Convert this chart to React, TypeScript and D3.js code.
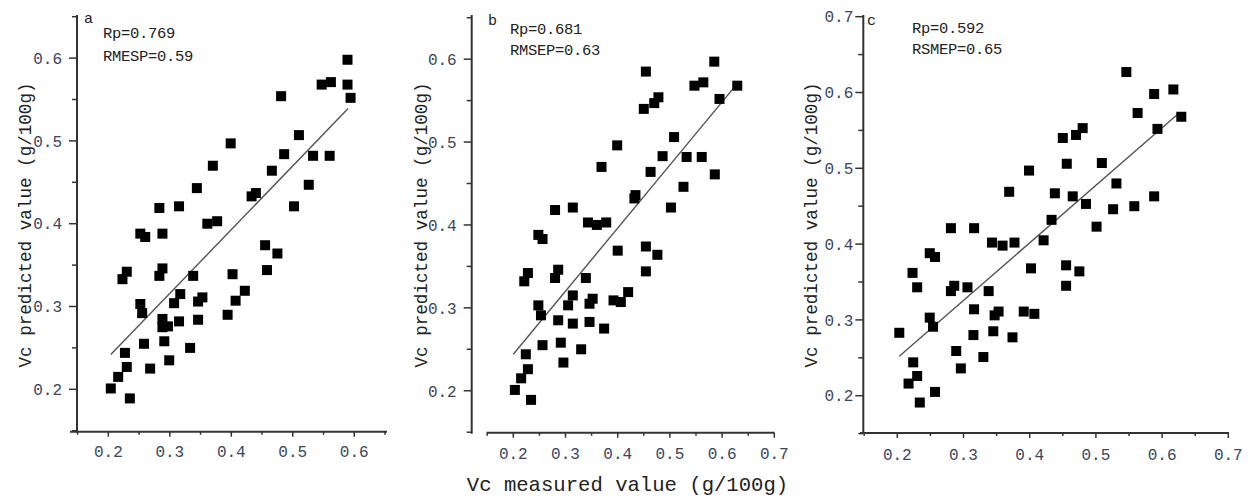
import React from 'react';
import * as d3 from 'd3';

// ---------- data ----------
const xTitle = 'Vc measured value (g/100g)';
const yTitle = 'Vc predicted value (g/100g)';
const panelLabels = ['a', 'b', 'c'];
const statsA = ['Rp=0.769', 'RMESP=0.59'];
const statsB = ['Rp=0.681', 'RMSEP=0.63'];
const statsC = ['Rp=0.592', 'RSMEP=0.65'];

const xTicksA = [0.2, 0.3, 0.4, 0.5, 0.6];
const xTicksBC = [0.2, 0.3, 0.4, 0.5, 0.6, 0.7];
const yTicksAB = [0.2, 0.3, 0.4, 0.5, 0.6];
const yTicksC = [0.2, 0.3, 0.4, 0.5, 0.6, 0.7];

const measuredA = [0.589, 0.547, 0.562, 0.589, 0.594, 0.481, 0.510, 0.486, 0.533, 0.560, 0.399, 0.370, 0.466, 0.344, 0.526, 0.433, 0.440, 0.502, 0.283, 0.315, 0.361, 0.377, 0.252, 0.260, 0.288, 0.455, 0.475, 0.458, 0.230, 0.223, 0.288, 0.283, 0.338, 0.402, 0.422, 0.407, 0.394, 0.252, 0.255, 0.317, 0.307, 0.353, 0.346, 0.288, 0.288, 0.297, 0.315, 0.346, 0.227, 0.258, 0.291, 0.333, 0.230, 0.268, 0.299, 0.216, 0.204, 0.235];
const predictedA = [0.598, 0.568, 0.571, 0.568, 0.552, 0.554, 0.507, 0.484, 0.482, 0.482, 0.497, 0.470, 0.464, 0.443, 0.447, 0.433, 0.437, 0.421, 0.419, 0.421, 0.400, 0.403, 0.388, 0.384, 0.388, 0.374, 0.364, 0.344, 0.342, 0.333, 0.346, 0.337, 0.337, 0.339, 0.319, 0.307, 0.290, 0.303, 0.292, 0.315, 0.304, 0.311, 0.306, 0.285, 0.275, 0.276, 0.282, 0.284, 0.244, 0.255, 0.258, 0.250, 0.227, 0.225, 0.235, 0.215, 0.201, 0.189];
const fitA = [[0.204, 0.242], [0.590, 0.539]];

const measuredB = [0.585, 0.454, 0.547, 0.564, 0.629, 0.595, 0.478, 0.470, 0.450, 0.508, 0.399, 0.486, 0.532, 0.561, 0.369, 0.463, 0.586, 0.526, 0.434, 0.432, 0.502, 0.280, 0.314, 0.343, 0.360, 0.378, 0.248, 0.256, 0.400, 0.454, 0.476, 0.454, 0.228, 0.221, 0.286, 0.280, 0.339, 0.420, 0.392, 0.406, 0.314, 0.305, 0.352, 0.346, 0.248, 0.253, 0.286, 0.314, 0.346, 0.374, 0.224, 0.256, 0.291, 0.330, 0.228, 0.296, 0.215, 0.203, 0.234];
const predictedB = [0.597, 0.585, 0.568, 0.572, 0.568, 0.552, 0.554, 0.547, 0.540, 0.506, 0.496, 0.483, 0.482, 0.482, 0.470, 0.464, 0.461, 0.446, 0.436, 0.432, 0.421, 0.418, 0.421, 0.403, 0.400, 0.403, 0.388, 0.383, 0.369, 0.374, 0.364, 0.344, 0.342, 0.332, 0.346, 0.336, 0.336, 0.319, 0.309, 0.307, 0.315, 0.303, 0.311, 0.305, 0.303, 0.291, 0.285, 0.281, 0.283, 0.275, 0.244, 0.255, 0.258, 0.250, 0.226, 0.234, 0.215, 0.201, 0.189];
const fitB = [[0.200, 0.244], [0.627, 0.569]];

const measuredC = [0.546, 0.588, 0.617, 0.563, 0.629, 0.593, 0.480, 0.470, 0.450, 0.399, 0.456, 0.509, 0.369, 0.438, 0.465, 0.485, 0.531, 0.526, 0.558, 0.588, 0.433, 0.501, 0.281, 0.316, 0.343, 0.359, 0.377, 0.421, 0.249, 0.257, 0.402, 0.455, 0.475, 0.455, 0.223, 0.230, 0.286, 0.281, 0.306, 0.338, 0.316, 0.353, 0.347, 0.391, 0.407, 0.249, 0.254, 0.203, 0.315, 0.345, 0.374, 0.289, 0.330, 0.224, 0.296, 0.230, 0.217, 0.257, 0.234];
const predictedC = [0.627, 0.598, 0.604, 0.573, 0.568, 0.552, 0.553, 0.544, 0.540, 0.497, 0.506, 0.507, 0.469, 0.467, 0.463, 0.453, 0.480, 0.446, 0.450, 0.463, 0.432, 0.423, 0.421, 0.421, 0.402, 0.398, 0.402, 0.405, 0.388, 0.383, 0.368, 0.372, 0.364, 0.345, 0.362, 0.343, 0.345, 0.338, 0.343, 0.338, 0.314, 0.311, 0.306, 0.311, 0.308, 0.303, 0.291, 0.283, 0.280, 0.285, 0.277, 0.259, 0.251, 0.244, 0.236, 0.226, 0.216, 0.205, 0.191];
const fitC = [[0.203, 0.252], [0.627, 0.574]];

// ---------- layout ----------
const FONT = '"Liberation Mono", "DejaVu Sans Mono", monospace';
const AXIS = '#333';

type Cfg = {
  xDomain: number[]; xRange: number[];
  yDomain: number[]; yRange: number[];
  yAxisX: number; xAxisY: number; xAxisStart: number; xAxisEnd: number;
  yAxisTop: number; yLabelGap: number; xLabelDy: number;
  titleX: number; labelPos: number[]; statsPos: number[][];
};

const cfgA: Cfg = {
  xDomain: [0.15, 0.65], xRange: [77.6, 385],
  yDomain: [0.15, 0.65], yRange: [430.7, 16.7],
  yAxisX: 77, xAxisY: 431.7, xAxisStart: 70, xAxisEnd: 387,
  yAxisTop: 15, yLabelGap: 15, xLabelDy: 25.5,
  titleX: 25, labelPos: [84, 23], statsPos: [[103, 38], [103, 61]],
};
const cfgB: Cfg = {
  xDomain: [0.15, 0.7], xRange: [487.2, 774.3],
  yDomain: [0.15, 0.65], yRange: [432.2, 17.7],
  yAxisX: 471.7, xAxisY: 432.7, xAxisStart: 486.7, xAxisEnd: 774.5,
  yAxisTop: 15, yLabelGap: 15, xLabelDy: 26.5,
  titleX: 421, labelPos: [488, 25], statsPos: [[510, 34], [510, 55]],
};
const cfgC: Cfg = {
  xDomain: [0.15, 0.7], xRange: [864.2, 1228.3],
  yDomain: [0.15, 0.7], yRange: [433.6, 16.7],
  yAxisX: 863.3, xAxisY: 433, xAxisStart: 860, xAxisEnd: 1229,
  yAxisTop: 15, yLabelGap: 10, xLabelDy: 26.5,
  titleX: 811, labelPos: [867, 25], statsPos: [[912, 33], [912, 54]],
};

function Panel(props: {
  cfg: Cfg; xs: number[]; ys: number[]; fit: number[][];
  xTicks: number[]; yTicks: number[]; label: string; stats: string[];
}) {
  const { cfg, xs, ys, fit, xTicks, yTicks, label, stats } = props;
  const x = d3.scaleLinear().domain(cfg.xDomain).range(cfg.xRange);
  const y = d3.scaleLinear().domain(cfg.yDomain).range(cfg.yRange);
  const fmt = d3.format('.1f');
  const xMinor = d3.range(cfg.xDomain[0], cfg.xDomain[1] + 0.001, 0.05)
    .filter(v => !xTicks.some(t => Math.abs(t - v) < 1e-6));
  const yMinor = d3.range(cfg.yDomain[0], cfg.yDomain[1] + 0.001, 0.05)
    .filter(v => !yTicks.some(t => Math.abs(t - v) < 1e-6));
  const line = d3.line<number[]>().x(d => x(d[0])).y(d => y(d[1]));
  const s = 10;
  return (
    <g>
      {/* axes */}
      <line x1={cfg.yAxisX} x2={cfg.yAxisX} y1={cfg.yAxisTop} y2={cfg.xAxisY + 1} stroke={AXIS} strokeWidth={2} />
      <line x1={cfg.xAxisStart} x2={cfg.xAxisEnd} y1={cfg.xAxisY} y2={cfg.xAxisY} stroke={AXIS} strokeWidth={2} />
      {yTicks.map(t => (
        <g key={'yt' + t}>
          <line x1={cfg.yAxisX - 8} x2={cfg.yAxisX} y1={y(t)} y2={y(t)} stroke={AXIS} strokeWidth={1.5} />
          <text x={cfg.yAxisX - cfg.yLabelGap} y={y(t)} dy="0.36em" textAnchor="end"
            fontFamily={FONT} fontSize={16} fill="#3a4660">{fmt(t)}</text>
        </g>
      ))}
      {yMinor.map(t => (
        <line key={'ym' + t} x1={cfg.yAxisX - 5} x2={cfg.yAxisX} y1={y(t)} y2={y(t)} stroke={AXIS} strokeWidth={1.5} />
      ))}
      {xTicks.map(t => (
        <g key={'xt' + t}>
          <line x1={x(t)} x2={x(t)} y1={cfg.xAxisY} y2={cfg.xAxisY + 5} stroke={AXIS} strokeWidth={1.5} />
          <text x={x(t)} y={cfg.xAxisY + cfg.xLabelDy} textAnchor="middle"
            fontFamily={FONT} fontSize={16} fill="#3a4660">{fmt(t)}</text>
        </g>
      ))}
      {xMinor.map(t => (
        <line key={'xm' + t} x1={x(t)} x2={x(t)} y1={cfg.xAxisY} y2={cfg.xAxisY + 3} stroke={AXIS} strokeWidth={1.5} />
      ))}
      {/* y title */}
      <text transform={`translate(${cfg.titleX},225) rotate(-90)`} dy="0.35em" textAnchor="middle"
        fontFamily={FONT} fontSize={17.6} fill="#222">{yTitle}</text>
      {/* fit line */}
      <path d={line(fit) || ''} stroke="#555" strokeWidth={1.4} fill="none" />
      {/* points */}
      {xs.map((v, i) => (
        <rect key={'p' + i} x={x(v) - s / 2} y={y(ys[i]) - s / 2} width={s} height={s} fill="#000" />
      ))}
      {/* labels */}
      <text x={cfg.labelPos[0]} y={cfg.labelPos[1]} fontFamily={FONT} fontSize={15} fill="#222">{label}</text>
      {stats.map((t, i) => (
        <text key={'s' + i} x={cfg.statsPos[i][0]} y={cfg.statsPos[i][1]} fontFamily={FONT}
          fontSize={15.5} fill="#222" letterSpacing={-0.3}>{t}</text>
      ))}
    </g>
  );
}

export default function App() {
  return (
    <svg width={1250} height={500} style={{ position: 'absolute', left: 0, top: 0, background: '#fff' }}>
      <rect width={1250} height={500} fill="#fff" />
      <Panel cfg={cfgA} xs={measuredA} ys={predictedA} fit={fitA} xTicks={xTicksA} yTicks={yTicksAB} label={panelLabels[0]} stats={statsA} />
      <Panel cfg={cfgB} xs={measuredB} ys={predictedB} fit={fitB} xTicks={xTicksBC} yTicks={yTicksAB} label={panelLabels[1]} stats={statsB} />
      <Panel cfg={cfgC} xs={measuredC} ys={predictedC} fit={fitC} xTicks={xTicksBC} yTicks={yTicksC} label={panelLabels[2]} stats={statsC} />
      <text x={627.5} y={491} textAnchor="middle" fontFamily={FONT} fontSize={20.6} fill="#222">{xTitle}</text>
    </svg>
  );
}
